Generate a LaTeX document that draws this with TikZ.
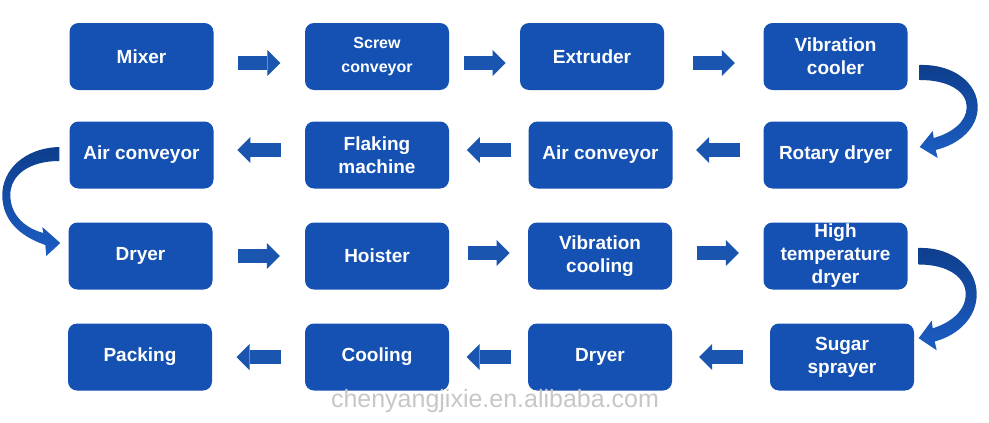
\documentclass[tikz,border=0pt]{standalone}
\usepackage{fontspec}
\setmainfont{Liberation Sans}
\usetikzlibrary{arrows.meta,calc}

\definecolor{boxblue}{HTML}{1451B3}
\definecolor{flowblue}{HTML}{1A56B0}
\definecolor{loopdark}{HTML}{0E3E8C}
\definecolor{looplight}{HTML}{1C5EC4}

\tikzset{
  box/.style={fill=boxblue, rounded corners=9pt, minimum width=144pt, minimum height=67pt,
    inner sep=0pt, align=center, text=white, font=\bfseries\fontsize{19}{23}\selectfont},
  smallbox/.style={box, font=\bfseries\fontsize{16}{24}\selectfont},
  flow/.style={flowblue, line width=14pt, -{Triangle[length=13pt,width=26pt,line width=0pt]}},
  % ribbon turning down on the right, origin = top of the tail
  loopR/.pic={
    \shade[top color=loopdark, bottom color=looplight]
      (0,0) .. controls (35,-1) and (58,19) .. (58,42)
      .. controls (58,63) and (40,79) .. (16,85) -- (18,93) -- (0,82) -- (13,66) -- (14,73)
      .. controls (32,68) and (47,57) .. (47,42)
      .. controls (47,27) and (30,15) .. (0,15) -- cycle;
  },
  % ribbon turning down on the left, origin = top of the tail
  loopL/.pic={
    \shade[top color=loopdark, bottom color=looplight]
      (0,0) .. controls (-35,1) and (-57,23) .. (-57,48)
      .. controls (-57,73) and (-40,89) .. (-14,98) -- (-13,109) -- (1,96) -- (-17,80) -- (-16,86)
      .. controls (-38,80) and (-49,65) .. (-49,48)
      .. controls (-49,28) and (-30,14) .. (0,14) -- cycle;
  }
}

% block arrows in the gap between two boxes
\newcommand{\flowright}[3]{\draw[flow] ($(#1.east)!0.5!(#2.west)+(-21,#3)$) -- ($(#1.east)!0.5!(#2.west)+(21,#3)$);}
\newcommand{\flowleft}[3]{\draw[flow] ($(#1.west)!0.5!(#2.east)+(22,#3)$) -- ($(#1.west)!0.5!(#2.east)+(-22,#3)$);}

\begin{document}
\begin{tikzpicture}[x=1pt, y=-1pt]
  \fill[white] (0,0) rectangle (989,423);
  \useasboundingbox (0,0) rectangle (989,423);

  % Row 1
  \node[box] (mixer) at (141.5,56.5) {Mixer};
  \node[smallbox] (screw) at (377,56.5) {Screw\\conveyor};
  \node[box] (extruder) at (592,56.5) {Extruder};
  \node[box] (vcooler) at (835.5,56.5) {Vibration\\cooler};

  % Row 2
  \node[box] (aironeA) at (141.5,155) {Air conveyor};
  \node[box] (flaking) at (377,155) {Flaking\\machine};
  \node[box] (airtwoB) at (600.5,155) {Air conveyor};
  \node[box] (rotary) at (835.5,155) {Rotary dryer};

  % Row 3
  \node[box] (dryerA) at (140.5,256) {Dryer};
  \node[box] (hoister) at (377,256) {Hoister};
  \node[box] (vcooling) at (600,256) {Vibration\\cooling};
  \node[box] (hightemp) at (835.5,256) {High\\temperature\\dryer};

  % Row 4
  \node[box] (packing) at (140,357) {Packing};
  \node[box] (cooling) at (377,357) {Cooling};
  \node[box] (dryerB) at (600,357) {Dryer};
  \node[box] (sugar) at (842,357) {Sugar\\sprayer};

  % straight arrows
  \flowright{mixer}{screw}{6.5}
  \flowright{screw}{extruder}{6.5}
  \flowright{extruder}{vcooler}{6.5}
  \flowleft{rotary}{airtwoB}{-5}
  \flowleft{airtwoB}{flaking}{-5}
  \flowleft{flaking}{aironeA}{-5}
  \flowright{dryerA}{hoister}{0}
  \flowright{hoister}{vcooling}{-3}
  \flowright{vcooling}{hightemp}{-3}
  \flowleft{sugar}{dryerB}{0}
  \flowleft{dryerB}{cooling}{0}
  \flowleft{cooling}{packing}{0}

  % curved arrows between rows
  \pic at ([shift={(12,8.5)}]vcooler.east) {loopR};
  \pic at ([shift={(-10,-8)}]aironeA.west) {loopL};
  \pic[yscale=1.1] at ([shift={(11,-8)}]hightemp.east) {loopR};

  \node[anchor=base, text=black!22, font=\fontsize{25}{30}\selectfont] (site) at (495,407) {chenyangjixie.en.alibaba.com};
\end{tikzpicture}
\end{document}
